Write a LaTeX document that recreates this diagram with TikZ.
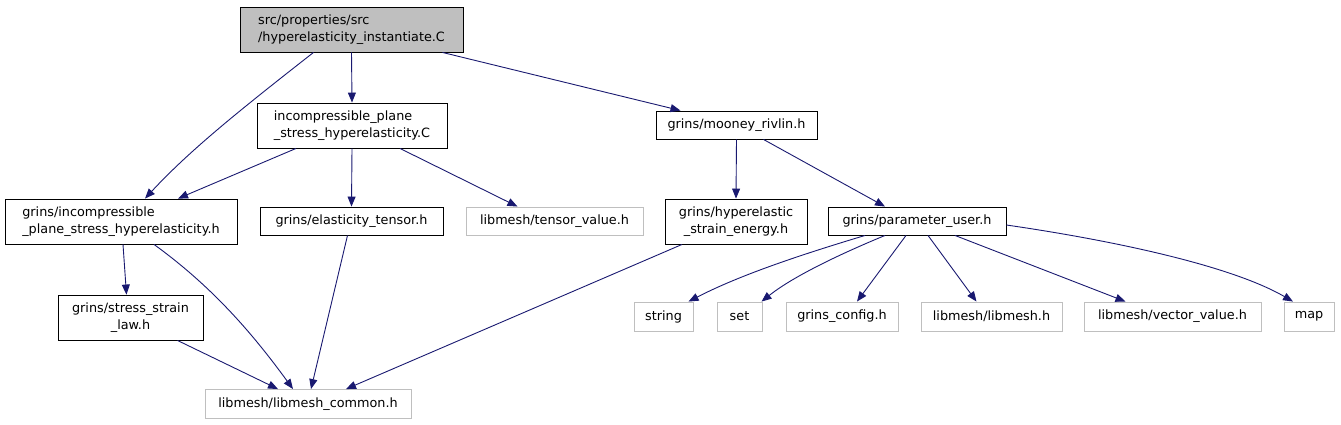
\documentclass[tikz,border=0pt]{standalone}
\usepackage{fontspec}
\setmainfont{DejaVu Sans}
\usetikzlibrary{arrows.meta,calc}
\definecolor{edgeblue}{HTML}{191970}
\definecolor{extgray}{HTML}{BFBFBF}
\tikzset{
  box/.style={draw=black, line width=0.9pt, rectangle, inner sep=0pt, font=\fontsize{12.8}{17}\selectfont, text=black},
  extbox/.style={box, draw=extgray},
  rootbox/.style={box, fill=extgray},
  edge/.style={draw=edgeblue, line width=0.9pt, -{Triangle[length=10pt,width=8pt]}},
}
\begin{document}
\begin{tikzpicture}[x=1pt,y=-1pt]
\useasboundingbox (0,0) rectangle (1341,424);
\node[rootbox, minimum width=223, minimum height=45, align=left] (root) at (351.5,29.5) {src/properties/src\\/hyperelasticity\_instantiate.C};
\node[box, minimum width=190, minimum height=45, align=left] (incC) at (352,125.5) {incompressible\_plane\\\_stress\_hyperelasticity.C};
\node[box, minimum width=161, minimum height=28] (moon) at (736.5,125) {grins/mooney\_rivlin.h};
\node[box, minimum width=232, minimum height=45, align=left] (incH) at (121,221.5) {grins/incompressible\\\_plane\_stress\_hyperelasticity.h};
\node[box, minimum width=183, minimum height=28] (elast) at (351.5,221) {grins/elasticity\_tensor.h};
\node[extbox, minimum width=177, minimum height=28] (tens) at (554.5,221) {libmesh/tensor\_value.h};
\node[box, minimum width=142, minimum height=45, align=center] (hyper) at (736,221.5) {grins/hyperelastic\\\_strain\_energy.h};
\node[box, minimum width=178, minimum height=28] (param) at (917,221) {grins/parameter\_user.h};
\node[box, minimum width=145, minimum height=45, align=center] (stress) at (130.5,317.5) {grins/stress\_strain\\\_law.h};
\node[extbox, minimum width=59, minimum height=29] (string) at (663.5,316.5) {string};
\node[extbox, minimum width=45, minimum height=29] (set) at (739.5,316.5) {set};
\node[extbox, minimum width=112, minimum height=29] (gconf) at (842,316.5) {grins\_config.h};
\node[extbox, minimum width=141, minimum height=29] (lmesh) at (991.5,316.5) {libmesh/libmesh.h};
\node[extbox, minimum width=177, minimum height=29] (vect) at (1172.5,316.5) {libmesh/vector\_value.h};
\node[extbox, minimum width=50, minimum height=29] (map) at (1309,316.5) {map};
\node[extbox, minimum width=206, minimum height=29] (common) at (308,404) {libmesh/libmesh\_common.h};

% root edges
\draw[edge] (root.south) -- (incC.north);
\draw[edge] ([xshift=-38]root.south) .. controls (240,110) and (190,150) .. ([xshift=24]incH.north);
\draw[edge] ([xshift=91]root.south) -- ([xshift=-56]moon.north);
% incC edges
\draw[edge] ([xshift=-56]incC.south) -- ([xshift=57]incH.north);
\draw[edge] (incC.south) -- (elast.north);
\draw[edge] ([xshift=48]incC.south) -- ([xshift=-37]tens.north);
% incH edges
\draw[edge] ([xshift=2]incH.south) -- ([xshift=-4]stress.north);
\draw[edge] ([xshift=33]incH.south) .. controls (210,285) and (250,330) .. ([xshift=-15]common.north);
% stress
\draw[edge] ([xshift=47]stress.south) -- ([xshift=-30]common.north);
% elast
\draw[edge] ([xshift=-4]elast.south) -- ([xshift=3]common.north);
% hyper
\draw[edge] ([xshift=-54]hyper.south) -- ([xshift=38]common.north);
% mooney
\draw[edge] (moon.south) -- (hyper.north);
\draw[edge] ([xshift=27]moon.south) -- ([xshift=-32]param.north);
% param
\draw[edge] ([xshift=-52]param.south) .. controls (800,255) and (740,275) .. ([xshift=25]string.north);
\draw[edge] ([xshift=-32]param.south) .. controls (845,252) and (795,275) .. ([xshift=22]set.north);
\draw[edge] ([xshift=-11]param.south) -- ([xshift=15]gconf.north);
\draw[edge] ([xshift=11]param.south) -- ([xshift=-15]lmesh.north);
\draw[edge] ([xshift=38]param.south) -- ([xshift=-47]vect.north);
\draw[edge] ([yshift=-4]param.east) .. controls (1110,240) and (1230,265) .. ([xshift=-16]map.north);
\end{tikzpicture}
\end{document}
